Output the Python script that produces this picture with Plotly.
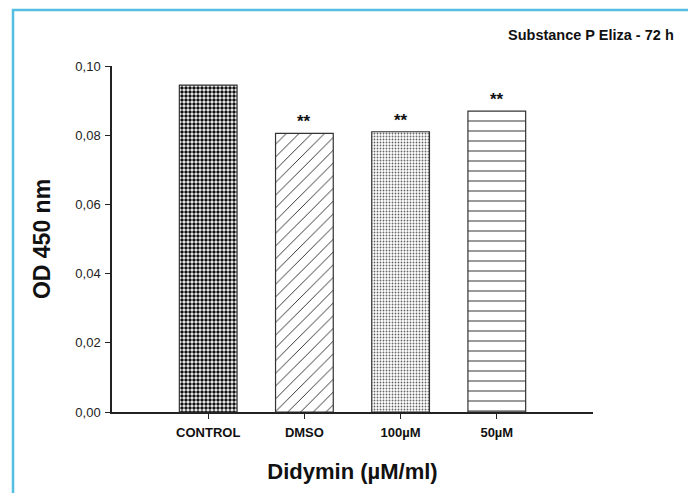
import plotly.graph_objects as go

categories = ["CONTROL", "DMSO", "100\u00b5M", "50\u00b5M"]
values = [0.0945, 0.0805, 0.0810, 0.0870]
stars = ["", "**", "**", "**"]
y_ticks = [0.0, 0.02, 0.04, 0.06, 0.08, 0.10]

pattern_shapes = [".", "/", ".", "-"]
pattern_sizes = [4, 9, 3, 10]
pattern_solidity = [0.6, 0.1, 0.3, 0.12]
pattern_fg = ["#111111", "#222222", "#666666", "#555555"]

x_idx = list(range(len(categories)))

fig = go.Figure()
for i, (c, v) in enumerate(zip(categories, values)):
    fig.add_trace(go.Bar(
        x=[x_idx[i]], y=[v], width=0.6, name=c, showlegend=False,
        marker=dict(
            color="white",
            line=dict(color="#333333", width=1.2),
            pattern=dict(shape=pattern_shapes[i], size=pattern_sizes[i],
                         solidity=pattern_solidity[i], fgcolor=pattern_fg[i],
                         bgcolor="white", fillmode="replace"),
        ),
    ))

for i, (v, s) in enumerate(zip(values, stars)):
    if s:
        fig.add_annotation(x=x_idx[i], y=v, text="<b>" + s + "</b>", showarrow=False,
                           yanchor="bottom", yshift=0,
                           font=dict(family="Liberation Sans, Arial", size=17, color="#111"))

fig.add_annotation(xref="paper", yref="paper", x=1.172, y=1.09, xanchor="right", yanchor="middle",
                   text="<b>Substance P Eliza - 72 h</b>", showarrow=False,
                   font=dict(family="Liberation Sans, Arial", size=14.5, color="#111"))

# outer light-blue frame
fig.add_shape(type="path", xref="paper", yref="paper",
              path="M -0.2058,-0.4 L -0.2058,1.1618 L 1.2058,1.1618 L 1.2058,-0.4",
              line=dict(color="#55bfe3", width=2.5), layer="above")

fig.update_layout(
    width=696, height=493,
    margin=dict(l=104, r=111, t=58, b=89),
    plot_bgcolor="white", paper_bgcolor="white",
    separators=", ",
    bargap=0.4,
    font=dict(family="Liberation Sans, Arial", color="#111"),
    xaxis=dict(
        range=[-1, 4], tickmode="array", tickvals=x_idx,
        ticktext=["<b>" + c + "</b>" for c in categories],
        tickfont=dict(size=13, color="#111"),
        ticklabelstandoff=3,
        showline=True, linecolor="#222", linewidth=1.5,
        ticks="outside", ticklen=5, tickcolor="#222", tickwidth=1.2,
        showgrid=False, zeroline=False,
        title=dict(text="<b>Didymin (\u00b5M/ml)</b>", font=dict(size=22, color="#111"), standoff=24),
    ),
    yaxis=dict(
        range=[0, 0.10], tickmode="array", tickvals=y_ticks, tickformat=".2f",
        tickfont=dict(size=13, color="#222"),
        ticklabelstandoff=2,
        showline=True, linecolor="#222", linewidth=1.5,
        ticks="outside", ticklen=5, tickcolor="#222", tickwidth=1.2,
        showgrid=False, zeroline=False,
        title=dict(text="<b>OD 450 nm</b>", font=dict(size=23, color="#111"), standoff=18),
    ),
)

fig.write_html("out.html")
